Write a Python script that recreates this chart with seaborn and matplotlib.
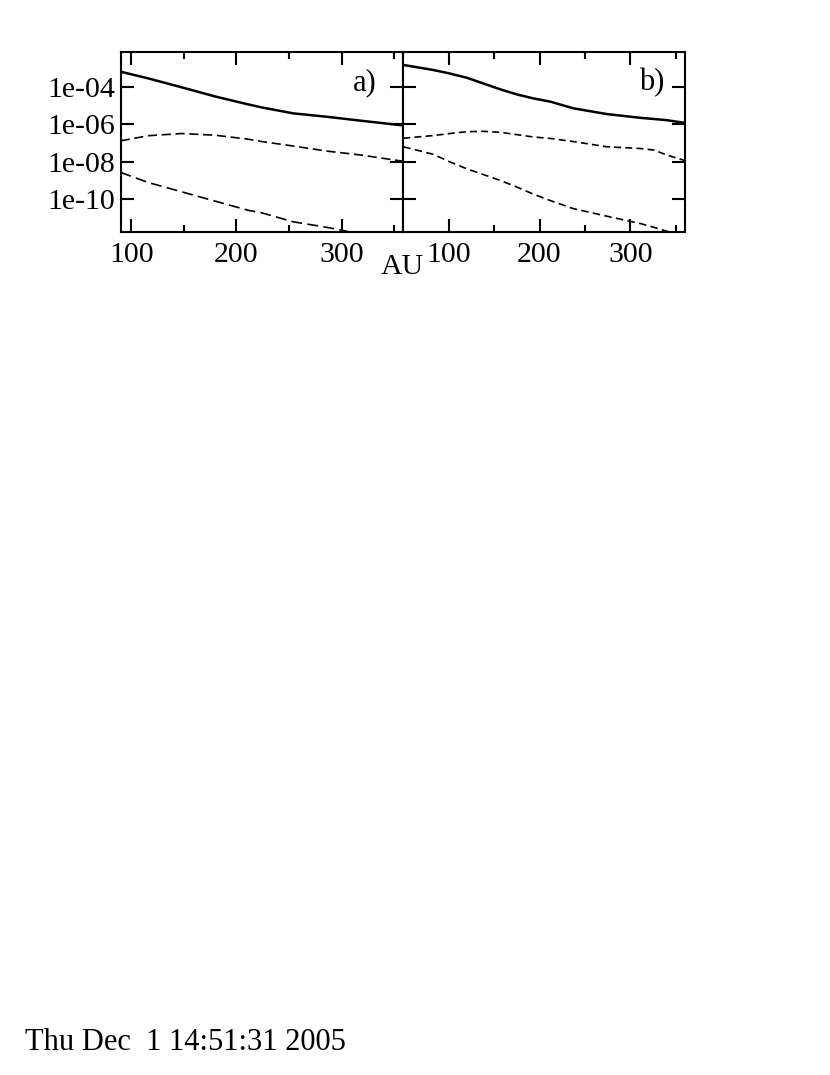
import numpy as np
import pandas as pd
import seaborn as sns
import matplotlib
matplotlib.use("Agg")
import matplotlib.pyplot as plt
from matplotlib.ticker import FixedLocator, MultipleLocator, NullLocator

# values
x_a = [90, 116, 148, 180, 211, 224, 254, 286, 318, 358]
solid_a = [6.3e-4, 2.8e-4, 9.3e-5, 3.0e-5, 1.15e-5, 7.9e-6, 3.8e-6, 2.5e-6, 1.55e-6, 8.7e-7]
dash1_a = [1.3e-7, 2.45e-7, 3.2e-7, 2.6e-7, 1.6e-7, 1.2e-7, 6.9e-8, 3.7e-8, 2.3e-8, 1.07e-8]
dash2_a = [2.7e-9, 7.9e-10, 2.5e-10, 7.9e-11, 2.6e-11, 1.9e-11, 6.3e-12, 3.2e-12, 1.4e-12, 6.3e-13]

x_b = [50, 83, 101, 120, 138, 157, 175, 193, 212, 237, 274, 311, 326, 340, 359]
solid_b = [1.45e-3, 7.8e-4, 5.1e-4, 3.0e-4, 1.5e-4, 7.2e-5, 3.9e-5, 2.4e-5, 1.6e-5, 7.1e-6,
           3.5e-6, 2.2e-6, 1.9e-6, 1.65e-6, 1.2e-6]
dash1_b = [1.8e-7, 2.5e-7, 3.2e-7, 4.0e-7, 4.2e-7, 3.7e-7, 2.8e-7, 2.1e-7, 1.75e-7, 1.2e-7,
           6.3e-8, 5.1e-8, 4.2e-8, 2.3e-8, 1.2e-8]
dash2_b = [6.3e-8, 2.5e-8, 1.0e-8, 4.2e-9, 2.1e-9, 1.0e-9, 4.5e-10, 1.9e-10, 8.5e-11, 3.2e-11,
           1.26e-11, 5.1e-12, 3.2e-12, 2.0e-12, 1.0e-12]

y_ticks = [1e-4, 1e-6, 1e-8, 1e-10]
y_tick_labels = ["1e-04", "1e-06", "1e-08", "1e-10"]
panel_labels = ["a)", "b)"]
date_text = "Thu Dec  1 14:51:31 2005"


def to_frame(panel, x, series):
    rows = []
    for name, vals in series.items():
        for xi, vi in zip(x, vals):
            rows.append((panel, name, xi, vi))
    return pd.DataFrame(rows, columns=["panel", "series", "AU", "value"])


df = pd.concat([
    to_frame("a", x_a, {"solid": solid_a, "dash1": dash1_a, "dash2": dash2_a}),
    to_frame("b", x_b, {"solid": solid_b, "dash1": dash1_b, "dash2": dash2_b}),
])

sns.set_theme(style="ticks")
plt.rcParams["font.family"] = ["Liberation Serif", "DejaVu Serif"]
plt.rcParams["axes.linewidth"] = 1.5
plt.rcParams["text.color"] = "black"
plt.rcParams["axes.labelcolor"] = "black"
plt.rcParams["xtick.color"] = "black"
plt.rcParams["ytick.color"] = "black"

fig = plt.figure(figsize=(8.3, 10.75), dpi=100)
ax_a = fig.add_axes([0.1454, 0.7839, 0.3405, 0.1674])
ax_b = fig.add_axes([0.4859, 0.7839, 0.3398, 0.1674])

styles = {
    "a": {"solid": ("-", 1.8), "dash1": ((0, (5.5, 2.8)), 1.2), "dash2": ((0, (6.5, 3.2)), 1.2)},
    "b": {"solid": ("-", 1.8), "dash1": ((0, (4.2, 2.5)), 1.2), "dash2": ((0, (4.5, 2.6)), 1.2)},
}
xlims = {"a": (90, 358.5), "b": (50, 360.5)}

for ax, panel, lab in zip([ax_a, ax_b], ["a", "b"], panel_labels):
    ax.set_yscale("log")
    sub = df[df["panel"] == panel]
    for name in ["solid", "dash1", "dash2"]:
        ls, lw = styles[panel][name]
        sns.lineplot(data=sub[sub["series"] == name], x="AU", y="value",
                     color="black", linestyle=ls, linewidth=lw,
                     errorbar=None, ax=ax)
    ax.set_xlim(*xlims[panel])
    ax.set_ylim(1.74e-12, 6.8e-3)
    ax.yaxis.set_major_locator(FixedLocator(y_ticks))
    ax.yaxis.set_minor_locator(NullLocator())
    ax.set_yticklabels(y_tick_labels if panel == "a" else [])
    ax.xaxis.set_major_locator(MultipleLocator(100))
    ax.xaxis.set_minor_locator(MultipleLocator(50))
    ax.tick_params(which="both", direction="in", top=True, right=True,
                   width=1.5, labelsize=21.5, colors="black")
    ax.tick_params(which="major", length=9.5)
    ax.tick_params(which="minor", length=5)
    ax.tick_params(axis="x", pad=7)
    ax.tick_params(axis="y", pad=4)
    ax.set_xlabel("")
    ax.set_ylabel("")
    for s in ax.spines.values():
        s.set_visible(True)
        s.set_color("black")
        s.set_linewidth(1.5)
    ax.text(0.905 if panel == "a" else 0.925, 0.79, lab, transform=ax.transAxes,
            ha="right", va="baseline", fontsize=22, color="black")

ax_a.set_xticks([100, 200, 300])
ax_b.set_xticks([100, 200, 300])

fig.text(402 / 830, 1 - 274 / 1075, "AU", ha="center", va="baseline", fontsize=21.5, color="black")
fig.text(25 / 830, 1 - 1050 / 1075, date_text, ha="left", va="baseline", fontsize=22, color="black")

fig.savefig("out.png", dpi=100)
